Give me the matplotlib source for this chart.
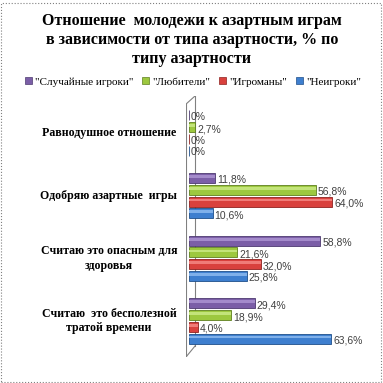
import matplotlib.pyplot as plt
import matplotlib.transforms as mtransforms
from matplotlib.patches import Rectangle
from matplotlib.lines import Line2D
import numpy as np

categories = ["Равнодушное отношение", "Одобряю азартные  игры",
              "Считаю это опасным для\nздоровья", "Считаю  это бесполезной\nтратой времени"]
series_names = ['"Случайные игроки"', '"Любители"', '"Игроманы"', '"Неигроки"']
sluchainye = [0.0, 11.8, 58.8, 29.4]
lubiteli = [2.7, 56.8, 21.6, 18.9]
igromany = [0.0, 64.0, 32.0, 4.0]
neigroki = [0.0, 10.6, 25.8, 63.6]
colors = ["#7B5EA7", "#9DC83F", "#D9413D", "#3E7FCF"]
lights = ["#A48BCB", "#C3E47A", "#F07C78", "#7FB0EA"]
edges = ["#4E3A70", "#5E7F1F", "#8E2220", "#1F4F8A"]


def fmt(v):
    if v == 0:
        return "0%"
    return ("%.1f%%" % v).replace(".", ",")


fig = plt.figure(figsize=(3.83, 3.83), dpi=100)
W = H = 383.0
ax = fig.add_axes([186 / W, 1 - 357 / H, 174 / W, 261 / H])

series = [sluchainye, lubiteli, igromany, neigroki]
y = np.arange(len(categories))
step = 0.187
height = 0.16
for i, vals in enumerate(series):
    pos = y + (i - 1.5) * step
    ax.barh(pos, vals, height=height, color=colors[i], edgecolor=edges[i], linewidth=0.6, zorder=3)
    # cylinder highlight
    ax.barh(pos - 0.025, vals, height=0.045, color=lights[i], linewidth=0, zorder=3.5)
    for p, v in zip(pos, vals):
        ax.text(v + 0.9, p + 0.03, fmt(v), fontsize=7.5, family="Liberation Sans",
                color="#404040", va="center", ha="left", zorder=4)

ax.set_xlim(-1.34, 76.5)
ax.set_ylim(3.574, -0.59)
ax.axis("off")

# 3D wall lines
lc = "#808080"
d = 9 / 174.0
ax.add_line(Line2D([0, 0], [0, 0.969], transform=ax.transAxes, color=lc, lw=0.8, zorder=1))
ax.add_line(Line2D([d, d], [0.042, 1], transform=ax.transAxes, color=lc, lw=0.8, zorder=1))
ax.add_line(Line2D([0, d], [0, 0.042], transform=ax.transAxes, color=lc, lw=0.8, zorder=1))
ax.add_line(Line2D([0, d], [0.969, 1], transform=ax.transAxes, color=lc, lw=0.8, zorder=1))

# category labels
tr = mtransforms.blended_transform_factory(fig.transFigure, ax.transData)
for yi, lab in zip(y, categories):
    ax.text(109 / W, yi, lab, transform=tr, ha="center", va="center", multialignment="center",
            fontsize=8.6, fontweight="bold", family="Liberation Serif", color="black",
            linespacing=1.3)

# title
fig.text(192 / W, 1 - 40 / H,
         "Отношение  молодежи к азартным играм\nв зависимости от типа азартности, % по\nтипу азартности",
         ha="center", va="center", fontsize=11.5, fontweight="bold", family="Liberation Serif",
         linespacing=1.25)

# legend
handles = [Rectangle((0, 0), 1, 1, facecolor=c, edgecolor=e, lw=0.5) for c, e in zip(colors, edges)]
fig.legend(handles, series_names, loc="center", bbox_to_anchor=(193 / W, 1 - 82 / H), ncol=4,
           frameon=False, prop={"family": "Liberation Serif", "size": 8}, handlelength=0.6,
           handleheight=0.6, handletextpad=0.3, columnspacing=0.8, borderaxespad=0)

# dotted border
fig.patches.append(Rectangle((1.5 / W, 1.5 / H), 379 / W, 379 / H, transform=fig.transFigure,
                             fill=False, edgecolor="#808080", linestyle=":", lw=0.8))

fig.savefig("out.png", dpi=100)
